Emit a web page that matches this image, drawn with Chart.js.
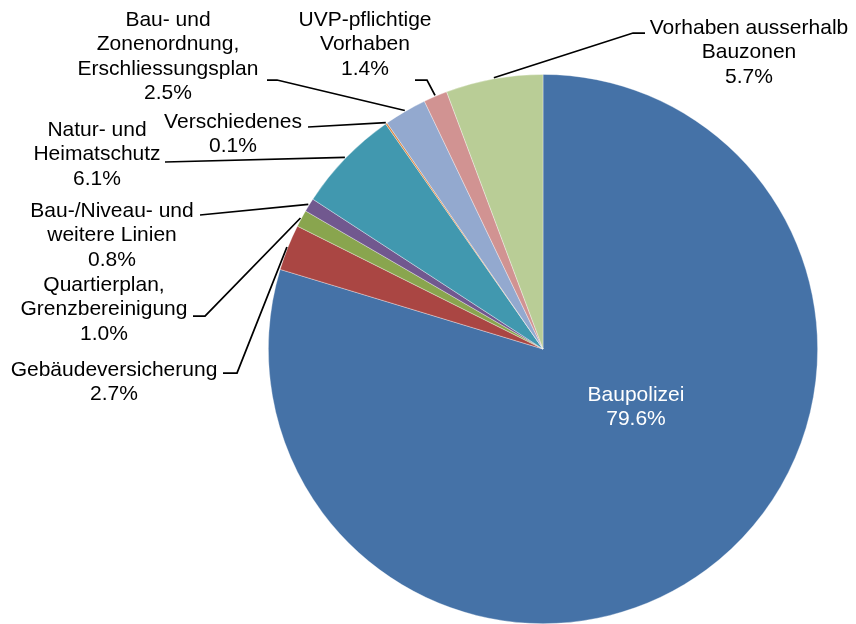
<!DOCTYPE html>
<html>
<head>
<meta charset="utf-8">
<script src="https://cdn.jsdelivr.net/npm/chart.js@4"></script>
<style>
  html, body { margin: 0; padding: 0; background: #fff; }
  #wrap { width: 856px; height: 624px; position: relative; }
</style>
</head>
<body>
<div id="wrap"><canvas id="pie"></canvas></div>
<script>
// categories (line breaks as in the picture)
let categories = [
  "Baupolizei",
  "Gebäudeversicherung",
  "Quartierplan,\nGrenzbereinigung",
  "Bau-/Niveau- und\nweitere Linien",
  "Natur- und\nHeimatschutz",
  "Verschiedenes",
  "Bau- und\nZonenordnung,\nErschliessungsplan",
  "UVP-pflichtige\nVorhaben",
  "Vorhaben ausserhalb\nBauzonen"
];
let shares = [79.6, 2.7, 1.0, 0.8, 6.1, 0.1, 2.5, 1.4, 5.7];
let sliceColors = [
  "#4572a7", "#aa4643", "#89a54e", "#71588f", "#4198af",
  "#db843d", "#93a9cf", "#d19392", "#b9cd96"
];

// where each label sits and where its leader line leaves the text
let labelSpots = [
  { cx: 636, y: 395, color: "#fff" },
  { cx: 114, y: 370, start: [223, 373], elbow: [237, 373] },
  { cx: 104, y: 285, start: [193, 316], elbow: [205, 316] },
  { cx: 112, y: 211, start: [200, 215] },
  { cx: 97, y: 130, start: [165, 162] },
  { cx: 233, y: 122, start: [308, 127] },
  { cx: 168, y: 20, start: [267, 80], elbow: [277, 80] },
  { cx: 365, y: 20, start: [415, 80], elbow: [427, 80] },
  { cx: 749, y: 28, start: [645, 33], elbow: [633, 33] }
];

let pieLabels = {
  id: "pieLabels",
  afterDatasetsDraw(chart) {
    let c = chart.ctx;
    let arcs = chart.getDatasetMeta(0).data;
    c.save();
    c.font = "21px 'Liberation Sans', Arial, sans-serif";
    c.textAlign = "center";
    c.textBaseline = "middle";
    arcs.forEach((arc, i) => {
      let spot = labelSpots[i];
      let lines = categories[i].split("\n");
      lines.push(shares[i].toFixed(1) + "%");
      c.fillStyle = spot.color || "#000";
      lines.forEach((t, k) => c.fillText(t, spot.cx, spot.y + k * 24.5));
      if (spot.start) {
        let mid = (arc.startAngle + arc.endAngle) / 2;
        let ex = arc.x + Math.cos(mid) * (arc.outerRadius + 1);
        let ey = arc.y + Math.sin(mid) * (arc.outerRadius + 1);
        c.beginPath();
        c.strokeStyle = "#000";
        c.lineWidth = 1.75;
        c.moveTo(spot.start[0], spot.start[1]);
        if (spot.elbow) c.lineTo(spot.elbow[0], spot.elbow[1]);
        c.lineTo(ex, ey);
        c.stroke();
      }
    });
    c.restore();
  }
};

let pieChart = new Chart(document.getElementById("pie"), {
  type: "pie",
  data: {
    labels: categories,
    datasets: [
      {
        data: shares,
        backgroundColor: sliceColors,
        borderColor: "rgba(255,255,255,0.45)",
        borderWidth: 0.75
      }
    ]
  },
  options: {
    responsive: true,
    maintainAspectRatio: false,
    animation: false,
    layout: { padding: { left: 268, right: 38, top: 74, bottom: 0 } },
    plugins: {
      legend: { display: false },
      tooltip: { enabled: false }
    }
  },
  plugins: [pieLabels]
});
</script>
</body>
</html>
